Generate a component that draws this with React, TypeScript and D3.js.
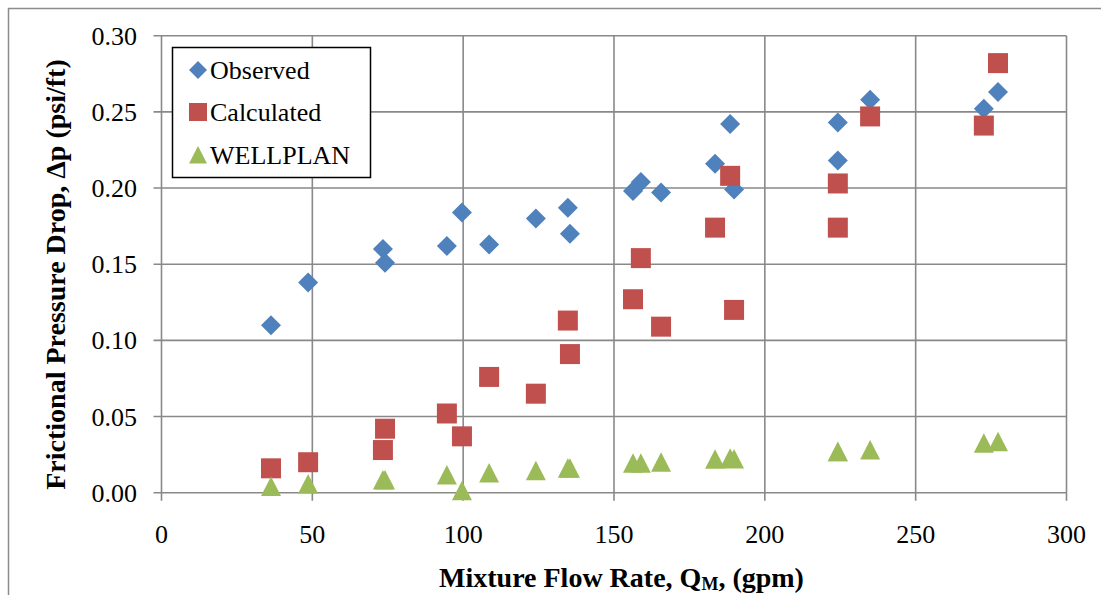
import React from "react";
import * as d3 from "d3";

const flowRates = [36.3, 48.6, 73.4, 74.1, 94.6, 99.6, 108.6, 124.1, 134.7, 135.4, 156.3, 158.9, 165.6, 183.5, 188.5, 189.8, 224.2, 224.2, 234.9, 272.6, 277.3];
const observed = [0.110, 0.138, 0.160, 0.151, 0.162, 0.184, 0.163, 0.180, 0.187, 0.170, 0.198, 0.204, 0.197, 0.216, 0.242, 0.199, 0.243, 0.218, 0.258, 0.252, 0.263];
const calculated = [0.016, 0.020, 0.028, 0.042, 0.052, 0.037, 0.076, 0.065, 0.113, 0.091, 0.127, 0.154, 0.109, 0.174, 0.208, 0.120, 0.203, 0.174, 0.247, 0.241, 0.282];
const wellplan = [0.004, 0.0057, 0.0083, 0.0083, 0.0116, 0.0013, 0.013, 0.0144, 0.016, 0.016, 0.0193, 0.0193, 0.020, 0.022, 0.0226, 0.0222, 0.0269, 0.0269, 0.028, 0.0324, 0.0335];

const xTicks = [0, 50, 100, 150, 200, 250, 300];
const yTicks = [0, 0.05, 0.1, 0.15, 0.2, 0.25, 0.3];
const seriesNames = ["Observed", "Calculated", "WELLPLAN"];
const seriesColors = ["#4F81BD", "#C0504D", "#9BBB59"];

const FONT = "'Liberation Serif', 'Times New Roman', serif";

export default function App() {
  const left = 161.5, right = 1066.5, top = 35.7, bottom = 492.7;
  const x = d3.scaleLinear().domain([0, 300]).range([left, right]);
  const y = d3.scaleLinear().domain([0, 0.3]).range([bottom, top]);
  const grid = "#898989";

  const diamond = (cx: number, cy: number, r = 10) =>
    `M${cx},${cy - r}L${cx + r},${cy}L${cx},${cy + r}L${cx - r},${cy}Z`;
  const square = (cx: number, cy: number, h = 10) =>
    `M${cx - h},${cy - h}h${2 * h}v${2 * h}h${-2 * h}Z`;
  const triangle = (cx: number, cy: number, h = 10) =>
    `M${cx},${cy - h}L${cx + h},${cy + h * 0.95}L${cx - h},${cy + h * 0.95}Z`;
  const shapes = [diamond, square, triangle];
  const data = [observed, calculated, wellplan];

  return (
    <svg width={1101} height={595} style={{ position: "absolute", left: 0, top: 0 }}>
      <rect x={0} y={0} width={1101} height={595} fill="#fff" />
      <rect x={8.5} y={8.5} width={1200} height={700} fill="none" stroke="#8c8c8c" strokeWidth={1.5} />
      {yTicks.map((t) => (
        <line key={"h" + t} x1={left - 8} x2={right} y1={y(t)} y2={y(t)} stroke={grid} strokeWidth={1.6} />
      ))}
      {xTicks.map((t) => (
        <line key={"v" + t} x1={x(t)} x2={x(t)} y1={top} y2={bottom + 8} stroke={grid} strokeWidth={1.6} />
      ))}
      {yTicks.map((t) => (
        <text key={"yl" + t} x={137} y={y(t) + 9} textAnchor="end" fontFamily={FONT} fontSize={26} fill="#000">
          {t.toFixed(2)}
        </text>
      ))}
      {xTicks.map((t) => (
        <text key={"xl" + t} x={x(t)} y={542.5} textAnchor="middle" fontFamily={FONT} fontSize={26} fill="#000">
          {t}
        </text>
      ))}
      {data.map((vals, si) =>
        vals.map((v, i) => (
          <path key={si + "-" + i} d={shapes[si](x(flowRates[i]), y(v))} fill={seriesColors[si]} />
        ))
      )}
      <rect x={172.5} y={47.5} width={198} height={130} fill="#fff" stroke="#000" strokeWidth={1.5} />
      {seriesNames.map((n, i) => {
        const cy = [70, 112, 155][i];
        return (
          <g key={n}>
            <path d={shapes[i](198, cy, 9)} fill={seriesColors[i]} />
            <text x={210} y={cy + 9} fontFamily={FONT} fontSize={26} fill="#000">{n}</text>
          </g>
        );
      })}
      <text
        transform={`translate(65,274.5) rotate(-90)`}
        textAnchor="middle"
        fontFamily={FONT}
        fontSize={28}
        fontWeight="bold"
        fill="#000"
      >
        Frictional Pressure Drop, Δp (psi/ft)
      </text>
      <text x={621.5} y={587} textAnchor="middle" fontFamily={FONT} fontSize={28} fontWeight="bold" fill="#000">
        Mixture Flow Rate, Q<tspan fontSize={18} dy={3}>M</tspan><tspan dy={-3}>, (gpm)</tspan>
      </text>
    </svg>
  );
}
